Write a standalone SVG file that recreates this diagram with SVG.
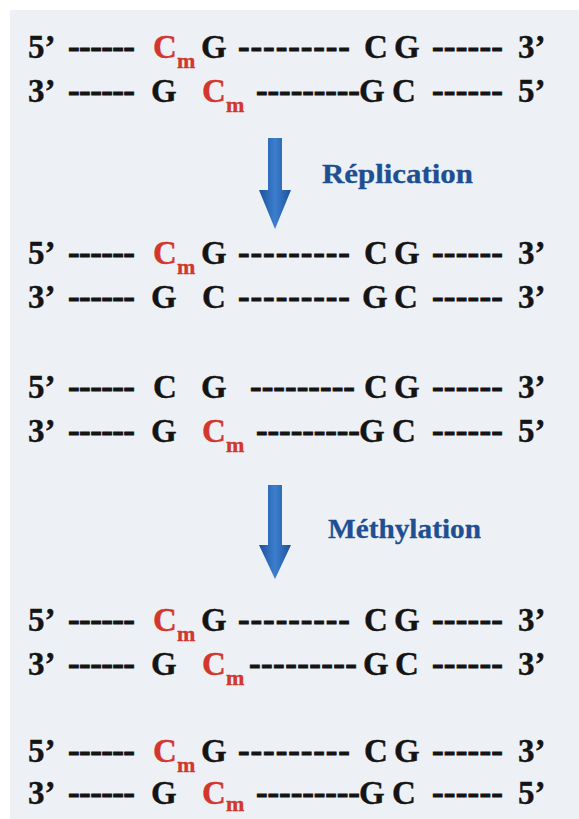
<svg xmlns="http://www.w3.org/2000/svg" width="579" height="819" viewBox="0 0 579 819">
<defs>
<style>
.t{font-family:"Liberation Serif","Times New Roman",serif;font-weight:bold;font-size:33px;fill:#141414;stroke:#141414;stroke-width:0.4px}
.r{fill:#d3362d;stroke:#d3362d}
.s{font-size:22px}
.d{font-family:"Liberation Serif","Times New Roman",serif;font-weight:bold;font-size:35px;fill:#141414;stroke:#141414;stroke-width:0.9px}
.lbl{font-family:"Liberation Serif","Times New Roman",serif;font-weight:bold;font-size:28px;fill:#1e4f92;stroke:#1e4f92;stroke-width:0.3px}
</style>
<linearGradient id="ag" x1="0" y1="0" x2="1" y2="0">
<stop offset="0" stop-color="#1c519c"/>
<stop offset="0.5" stop-color="#3c7fce"/>
<stop offset="1" stop-color="#1c519c"/>
</linearGradient>
</defs>
<rect x="0" y="0" width="579" height="819" fill="#ffffff"/>
<rect x="10" y="10" width="569" height="809" fill="#edf1f5"/>

<g id="line1">
<text class="t" x="28" y="58">5’</text>
<text class="d" x="68" y="58" textLength="67" lengthAdjust="spacing">------</text>
<text class="t r" x="153" y="58">C</text>
<text class="t r s" x="177" y="68">m</text>
<text class="t" x="201" y="58">G</text>
<text class="d" x="238" y="58" textLength="112" lengthAdjust="spacing">---------</text>
<text class="t" x="364" y="58">C</text>
<text class="t" x="394" y="58">G</text>
<text class="d" x="432" y="58" textLength="71" lengthAdjust="spacing">------</text>
<text class="t" x="518" y="58">3’</text>
</g>
<g id="line2">
<text class="t" x="28" y="102">3’</text>
<text class="d" x="68" y="102" textLength="67" lengthAdjust="spacing">------</text>
<text class="t" x="151" y="102">G</text>
<text class="t r" x="202" y="102">C</text>
<text class="t r s" x="226" y="112">m</text>
<text class="d" x="256" y="102" textLength="104" lengthAdjust="spacing">---------</text>
<text class="t" x="359" y="102">G</text>
<text class="t" x="392" y="102">C</text>
<text class="d" x="432" y="102" textLength="71" lengthAdjust="spacing">------</text>
<text class="t" x="518" y="102">5’</text>
</g>

<g id="arrow1">
<path d="M268,138 H282 V190 H291 L275,229 L259,190 H268 Z" fill="url(#ag)"/>
<text class="lbl" x="322" y="183" textLength="151" lengthAdjust="spacingAndGlyphs">Réplication</text>
</g>

<g id="line3">
<text class="t" x="28" y="264">5’</text>
<text class="d" x="68" y="264" textLength="67" lengthAdjust="spacing">------</text>
<text class="t r" x="153" y="264">C</text>
<text class="t r s" x="177" y="274">m</text>
<text class="t" x="201" y="264">G</text>
<text class="d" x="238" y="264" textLength="112" lengthAdjust="spacing">---------</text>
<text class="t" x="364" y="264">C</text>
<text class="t" x="394" y="264">G</text>
<text class="d" x="432" y="264" textLength="71" lengthAdjust="spacing">------</text>
<text class="t" x="518" y="264">3’</text>
</g>
<g id="line4">
<text class="t" x="28" y="308">3’</text>
<text class="d" x="68" y="308" textLength="67" lengthAdjust="spacing">------</text>
<text class="t" x="151" y="308">G</text>
<text class="t" x="202" y="308">C</text>
<text class="d" x="238" y="308" textLength="112" lengthAdjust="spacing">---------</text>
<text class="t" x="362" y="308">G</text>
<text class="t" x="394" y="308">C</text>
<text class="d" x="432" y="308" textLength="71" lengthAdjust="spacing">------</text>
<text class="t" x="518" y="308">3’</text>
</g>

<g id="line5">
<text class="t" x="28" y="398">5’</text>
<text class="d" x="68" y="398" textLength="67" lengthAdjust="spacing">------</text>
<text class="t" x="153" y="398">C</text>
<text class="t" x="201" y="398">G</text>
<text class="d" x="250" y="398" textLength="105" lengthAdjust="spacing">---------</text>
<text class="t" x="364" y="398">C</text>
<text class="t" x="394" y="398">G</text>
<text class="d" x="432" y="398" textLength="71" lengthAdjust="spacing">------</text>
<text class="t" x="518" y="398">3’</text>
</g>
<g id="line6">
<text class="t" x="28" y="442">3’</text>
<text class="d" x="68" y="442" textLength="67" lengthAdjust="spacing">------</text>
<text class="t" x="151" y="442">G</text>
<text class="t r" x="202" y="442">C</text>
<text class="t r s" x="226" y="452">m</text>
<text class="d" x="256" y="442" textLength="104" lengthAdjust="spacing">---------</text>
<text class="t" x="359" y="442">G</text>
<text class="t" x="392" y="442">C</text>
<text class="d" x="432" y="442" textLength="71" lengthAdjust="spacing">------</text>
<text class="t" x="518" y="442">5’</text>
</g>

<g id="arrow2">
<path d="M268,485 H282 V545 H291 L275,579 L259,545 H268 Z" fill="url(#ag)"/>
<text class="lbl" x="328" y="538" textLength="153" lengthAdjust="spacingAndGlyphs">Méthylation</text>
</g>

<g id="line7">
<text class="t" x="28" y="631">5’</text>
<text class="d" x="68" y="631" textLength="67" lengthAdjust="spacing">------</text>
<text class="t r" x="153" y="631">C</text>
<text class="t r s" x="177" y="641">m</text>
<text class="t" x="201" y="631">G</text>
<text class="d" x="238" y="631" textLength="112" lengthAdjust="spacing">---------</text>
<text class="t" x="364" y="631">C</text>
<text class="t" x="394" y="631">G</text>
<text class="d" x="432" y="631" textLength="71" lengthAdjust="spacing">------</text>
<text class="t" x="518" y="631">3’</text>
</g>
<g id="line8">
<text class="t" x="28" y="675">3’</text>
<text class="d" x="68" y="675" textLength="67" lengthAdjust="spacing">------</text>
<text class="t" x="151" y="675">G</text>
<text class="t r" x="202" y="675">C</text>
<text class="t r s" x="226" y="685">m</text>
<text class="d" x="249" y="675" textLength="108" lengthAdjust="spacing">---------</text>
<text class="t" x="363" y="675">G</text>
<text class="t" x="395" y="675">C</text>
<text class="d" x="432" y="675" textLength="71" lengthAdjust="spacing">------</text>
<text class="t" x="518" y="675">3’</text>
</g>

<g id="line9">
<text class="t" x="28" y="762">5’</text>
<text class="d" x="68" y="762" textLength="67" lengthAdjust="spacing">------</text>
<text class="t r" x="153" y="762">C</text>
<text class="t r s" x="177" y="772">m</text>
<text class="t" x="201" y="762">G</text>
<text class="d" x="238" y="762" textLength="112" lengthAdjust="spacing">---------</text>
<text class="t" x="364" y="762">C</text>
<text class="t" x="394" y="762">G</text>
<text class="d" x="432" y="762" textLength="71" lengthAdjust="spacing">------</text>
<text class="t" x="518" y="762">3’</text>
</g>
<g id="line10">
<text class="t" x="28" y="804">3’</text>
<text class="d" x="68" y="804" textLength="67" lengthAdjust="spacing">------</text>
<text class="t" x="151" y="804">G</text>
<text class="t r" x="202" y="804">C</text>
<text class="t r s" x="226" y="811">m</text>
<text class="d" x="256" y="804" textLength="104" lengthAdjust="spacing">---------</text>
<text class="t" x="359" y="804">G</text>
<text class="t" x="392" y="804">C</text>
<text class="d" x="432" y="804" textLength="71" lengthAdjust="spacing">------</text>
<text class="t" x="518" y="804">5’</text>
</g>
</svg>
